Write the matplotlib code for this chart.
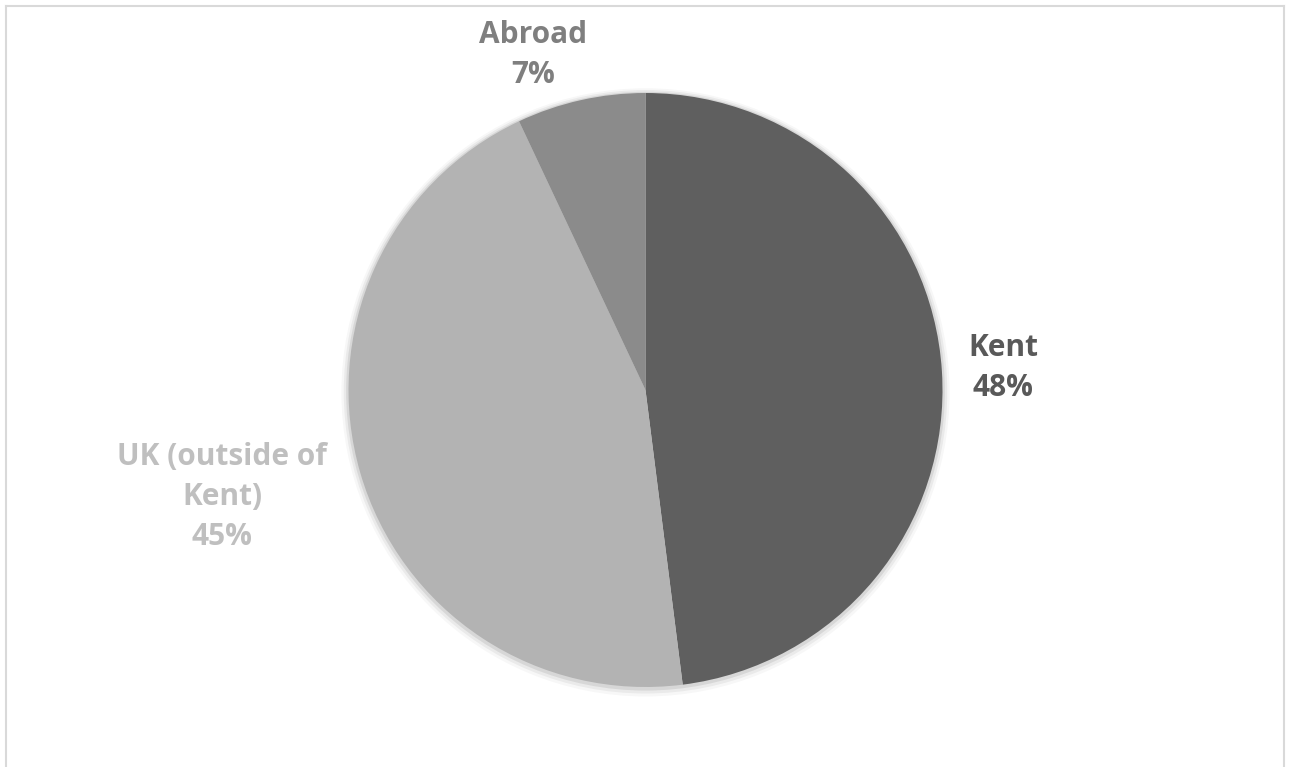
import matplotlib
matplotlib.use("Agg")
import matplotlib.pyplot as plt
from matplotlib.lines import Line2D

categories = ["Kent", "UK (outside of\nKent)", "Abroad"]
values = [48, 45, 7]
colors = ["#5f5f5f", "#b3b3b3", "#8b8b8b"]
label_colors = ["#595959", "#bfbfbf", "#7f7f7f"]

W, H = 1290, 767
fig = plt.figure(figsize=(W / 100, H / 100), dpi=100)
ax = fig.add_axes([0, 0, 1, 1])
R = 297.0
cx, cy = 645.5, 390.0

# soft shadow
for rr, a, dy in [(1.024, 0.03, -0.008), (1.016, 0.05, -0.006), (1.008, 0.08, -0.004)]:
    ax.add_patch(plt.Circle((0, dy), rr, color="#000000", alpha=a, lw=0))

ax.pie(values, colors=colors, startangle=90, counterclock=False,
       radius=1.0, center=(0, 0), frame=True,
       wedgeprops=dict(linewidth=0))
ax.set_xlim(-cx / R, (W - cx) / R)
ax.set_ylim(-(H - cy) / R, cy / R)
ax.set_aspect("equal")
ax.axis("off")

def px(x, y):
    return ((x - cx) / R, (cy - y) / R)

label_pos = [(1003, 368), (222, 497), (533, 55)]
for cat, v, col, (x, y) in zip(categories, values, label_colors, label_pos):
    xx, yy = px(x, y)
    ax.text(xx, yy, f"{cat}\n{v}%", ha="center", va="center", color=col,
            fontsize=21.5, fontweight="bold", family="Open Sans", linespacing=1.42)

# chart border (light gray)
bc = "#d9d9d9"
fig.add_artist(Line2D([6 / W, 6 / W], [0, 1 - 6 / H], color=bc, lw=1.5, transform=fig.transFigure))
fig.add_artist(Line2D([6 / W, 1284 / W], [1 - 6 / H, 1 - 6 / H], color=bc, lw=1.5, transform=fig.transFigure))
fig.add_artist(Line2D([1284 / W, 1284 / W], [0, 1 - 6 / H], color=bc, lw=1.5, transform=fig.transFigure))

fig.savefig("out.png", dpi=100, facecolor="white")
